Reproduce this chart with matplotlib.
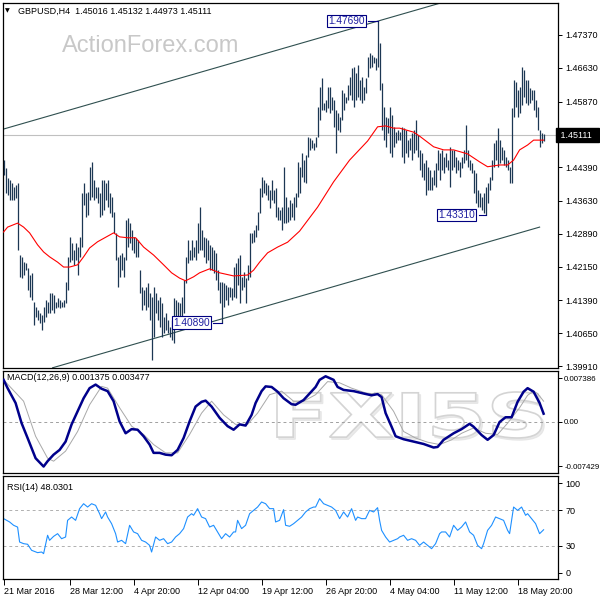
import matplotlib
matplotlib.use("Agg")
import matplotlib.pyplot as plt
from matplotlib.textpath import TextPath
from matplotlib.patches import PathPatch
from matplotlib.font_manager import FontProperties
from matplotlib.transforms import Affine2D
import numpy as np

plt.rcParams['font.family'] = ['Liberation Sans', 'DejaVu Sans']

# ---------------- data ----------------
highs = [
 1.4455,1.4437,1.4415,1.4410,1.4403,1.4395,1.4399,1.4403,1.4241,1.4237,
 1.4225,1.4223,1.4212,1.4196,1.4201,1.4135,1.4124,1.4117,1.4111,1.4106,
 1.4124,1.4140,1.4135,1.4156,1.4156,1.4151,1.4135,1.4144,1.4140,1.4135,
 1.4140,1.4180,1.4237,1.4282,1.4268,1.4252,1.4268,1.4259,1.4282,1.4381,
 1.4403,1.4381,1.4383,1.4440,1.4451,1.4410,1.4395,1.4395,1.4381,1.4410,
 1.4410,1.4403,1.4410,1.4381,1.4372,1.4338,1.4291,1.4237,1.4241,1.4246,
 1.4237,1.4320,1.4325,1.4313,1.4298,1.4282,1.4280,1.4275,1.4207,1.4169,
 1.4162,1.4169,1.4178,1.4156,1.4147,1.4169,1.4156,1.4140,1.4147,1.4133,
 1.4101,1.4111,1.4095,1.4079,1.4095,1.4144,1.4140,1.4135,1.4133,1.4147,
 1.4185,1.4237,1.4275,1.4252,1.4275,1.4259,1.4275,1.4313,1.4349,1.4298,
 1.4282,1.4280,1.4275,1.4264,1.4259,1.4252,1.4246,1.4207,1.4180,1.4180,
 1.4178,1.4174,1.4169,1.4169,1.4167,1.4214,1.4223,1.4234,1.4241,1.4192,
 1.4203,1.4189,1.4219,1.4291,1.4291,1.4298,1.4309,1.4338,1.4392,1.4417,
 1.4410,1.4403,1.4399,1.4388,1.4410,1.4388,1.4392,1.4349,1.4343,1.4349,
 1.4440,1.4372,1.4349,1.4365,1.4358,1.4372,1.4381,1.4451,1.4440,1.4471,
 1.4455,1.4467,1.4507,1.4505,1.4500,1.4494,1.4507,1.4575,1.4620,1.4640,
 1.4584,1.4591,1.4620,1.4620,1.4597,1.4591,1.4568,1.4561,1.4552,1.4613,
 1.4606,1.4597,1.4624,1.4642,1.4663,1.4665,1.4651,1.4669,1.4636,1.4642,
 1.4620,1.4640,1.4688,1.4697,1.4692,1.4688,1.4685,1.4769,1.4719,1.4629,
 1.4575,1.4552,1.4550,1.4575,1.4557,1.4530,1.4518,1.4523,1.4518,1.4530,
 1.4527,1.4523,1.4500,1.4505,1.4516,1.4523,1.4546,1.4512,1.4478,1.4471,
 1.4449,1.4455,1.4440,1.4433,1.4417,1.4433,1.4449,1.4478,1.4471,1.4478,
 1.4462,1.4471,1.4455,1.4485,1.4478,1.4478,1.4462,1.4455,1.4451,1.4462,
 1.4478,1.4534,1.4478,1.4455,1.4449,1.4433,1.4426,1.4388,1.4381,1.4372,
 1.4381,1.4395,1.4403,1.4417,1.4455,1.4494,1.4500,1.4527,1.4500,1.4485,
 1.4478,1.4462,1.4455,1.4440,1.4573,1.4636,1.4631,1.4613,1.4620,1.4665,
 1.4658,1.4636,1.4636,1.4618,1.4613,1.4613,1.4591,1.4575,1.4523,1.4516,1.4513]
lows = [
 1.4422,1.4381,1.4376,1.4365,1.4365,1.4365,1.4370,1.4252,1.4192,1.4189,
 1.4196,1.4207,1.4162,1.4147,1.4140,1.4083,1.4101,1.4095,1.4088,1.4072,
 1.4090,1.4101,1.4111,1.4111,1.4117,1.4111,1.4122,1.4124,1.4122,1.4124,
 1.4124,1.4133,1.4162,1.4225,1.4230,1.4219,1.4230,1.4196,1.4237,1.4259,
 1.4354,1.4327,1.4331,1.4365,1.4372,1.4365,1.4370,1.4358,1.4327,1.4331,
 1.4343,1.4365,1.4349,1.4336,1.4327,1.4291,1.4230,1.4169,1.4192,1.4207,
 1.4192,1.4230,1.4259,1.4268,1.4252,1.4246,1.4237,1.4237,1.4156,1.4117,
 1.4129,1.4117,1.4124,1.4095,1.4005,1.4056,1.4111,1.4095,1.4079,1.4056,
 1.4065,1.4072,1.4065,1.4056,1.4050,1.4043,1.4079,1.4088,1.4072,1.4095,
 1.4111,1.4178,1.4223,1.4230,1.4230,1.4237,1.4230,1.4246,1.4252,1.4252,
 1.4237,1.4223,1.4230,1.4207,1.4207,1.4201,1.4185,1.4162,1.4133,1.4089,
 1.4124,1.4140,1.4129,1.4147,1.4140,1.4147,1.4144,1.4174,1.4133,1.4162,
 1.4169,1.4133,1.4185,1.4192,1.4268,1.4271,1.4282,1.4298,1.4336,1.4372,
 1.4381,1.4376,1.4365,1.4347,1.4365,1.4358,1.4327,1.4320,1.4320,1.4298,
 1.4313,1.4313,1.4316,1.4320,1.4327,1.4320,1.4349,1.4372,1.4381,1.4417,
 1.4406,1.4403,1.4462,1.4478,1.4482,1.4478,1.4485,1.4507,1.4546,1.4568,
 1.4568,1.4564,1.4573,1.4561,1.4568,1.4530,1.4471,1.4523,1.4518,1.4546,
 1.4568,1.4584,1.4591,1.4602,1.4591,1.4575,1.4591,1.4597,1.4591,1.4584,
 1.4591,1.4606,1.4642,1.4663,1.4665,1.4674,1.4658,1.4665,1.4613,1.4523,
 1.4500,1.4485,1.4516,1.4471,1.4462,1.4485,1.4494,1.4500,1.4500,1.4462,
 1.4449,1.4471,1.4462,1.4478,1.4455,1.4471,1.4478,1.4462,1.4433,1.4417,
 1.4410,1.4376,1.4388,1.4388,1.4388,1.4399,1.4395,1.4433,1.4410,1.4433,
 1.4426,1.4440,1.4433,1.4395,1.4433,1.4440,1.4426,1.4433,1.4417,1.4437,
 1.4449,1.4455,1.4440,1.4433,1.4426,1.4381,1.4358,1.4349,1.4349,1.4343,
 1.4336,1.4331,1.4358,1.4388,1.4410,1.4440,1.4455,1.4440,1.4449,1.4455,
 1.4444,1.4440,1.4433,1.4403,1.4403,1.4552,1.4575,1.4552,1.4561,1.4579,
 1.4597,1.4584,1.4579,1.4584,1.4591,1.4568,1.4552,1.4523,1.4485,1.4494,1.4497]

ma_idx = [0, 2, 7, 10, 13, 17, 20, 23, 27, 30, 33, 37, 40, 43, 47, 55, 58, 62, 66, 70,
          75, 80, 84, 88, 91, 95, 98, 103, 108, 115, 122, 125, 128, 132, 137, 142, 148, 157, 165, 173,
          182, 187, 191, 195, 198, 205, 208, 215, 220, 225, 232, 238, 242, 248, 252, 255, 258, 262, 265, 270]
ma_val = [1.4293,1.4304,1.4313,1.4304,1.4291,1.4264,1.4248,1.4237,1.4225,1.4214,
          1.4214,1.4219,1.4237,1.4257,1.4271,1.4291,1.4282,1.4280,1.4280,1.4259,
          1.4241,1.4219,1.4201,1.4189,1.4183,1.4192,1.4201,1.4210,1.4201,1.4194,
          1.4196,1.4207,1.4225,1.4246,1.4259,1.4270,1.4295,1.4349,1.4406,1.4455,
          1.4498,1.4530,1.4532,1.4527,1.4527,1.4518,1.4509,1.4485,1.4478,1.4478,
          1.4469,1.4451,1.4440,1.4444,1.4444,1.4455,1.4478,1.4489,1.4500,1.4500]

macd_idx = [0, 2, 6, 9, 12, 16, 20, 22, 25, 28, 31, 34, 37, 40, 43, 46, 49, 52, 55, 58,
            61, 64, 67, 70, 73, 75, 78, 81, 84, 87, 90, 93, 96, 99, 101, 104, 108, 112, 115, 118,
            121, 124, 126, 129, 131, 134, 137, 140, 144, 146, 150, 153, 156, 158, 161, 165, 167, 170, 175, 180,
            184, 187, 189, 191, 194, 196, 200, 205, 210, 215, 217, 220, 225, 229, 233, 235, 239, 242, 245, 248,
            251, 254, 257, 260, 262, 265, 268, 270]
macd_val = [0.0071,0.0057,0.0032,-0.0002,-0.0027,-0.0061,-0.0075,-0.0066,-0.0055,-0.0047,
            -0.0033,-0.0004,0.0018,0.0040,0.0057,0.0063,0.0056,0.0052,0.0035,0.0001,
            -0.0019,-0.0012,-0.0013,-0.0024,-0.0038,-0.0052,-0.0052,-0.0055,-0.0056,-0.0047,
            -0.0027,0.0001,0.0026,0.0034,0.0036,0.0026,0.0007,-0.0007,-0.0013,-0.0004,
            -0.0006,0.0012,0.0032,0.0052,0.0060,0.0059,0.0051,0.0040,0.0030,0.0029,
            0.0037,0.0048,0.0059,0.0071,0.0077,0.0071,0.0059,0.0054,0.0052,0.0048,
            0.0045,0.0047,0.0042,0.0015,-0.0008,-0.0024,-0.0029,-0.0033,-0.0037,-0.0043,
            -0.0042,-0.0030,-0.0019,-0.0012,-0.0003,-0.0008,-0.0022,-0.0030,-0.0022,0.0000,
            0.0008,0.0008,0.0034,0.0051,0.0057,0.0051,0.0032,0.0014]

sig_idx = [0, 10, 16, 22, 25, 31, 37, 43, 49, 52, 58, 64, 70, 75, 81, 87, 93, 99, 104, 110,
           116, 122, 127, 133, 139, 145, 150, 156, 162, 168, 174, 181, 189, 195, 200, 206, 212, 218, 224, 229,
           235, 241, 247, 252, 258, 262, 265, 267, 270]
sig_val = [0.0071,0.0035,-0.0024,-0.0061,-0.0066,-0.0049,-0.0016,0.0029,0.0060,0.0057,
           0.0024,-0.0007,-0.0021,-0.0038,-0.0052,-0.0052,-0.0021,0.0015,0.0035,0.0012,
           -0.0004,-0.0004,0.0015,0.0046,0.0052,0.0035,0.0035,0.0046,0.0068,0.0066,
           0.0057,0.0049,0.0046,0.0018,-0.0016,-0.0027,-0.0034,-0.0038,-0.0030,-0.0019,
           -0.0010,-0.0019,-0.0021,-0.0002,0.0024,0.0045,0.0052,0.0048,0.0035]

rsi_idx = [0, 3, 5, 7, 8, 10, 12, 14, 17, 19, 20, 22, 23, 25, 27, 29, 31, 32, 34, 36,
           38, 40, 42, 44, 46, 48, 49, 51, 52, 54, 56, 57, 59, 61, 63, 65, 67, 69, 71, 73,
           74, 76, 78, 80, 82, 84, 86, 88, 90, 92, 94, 95, 97, 99, 101, 103, 105, 107, 109, 111,
           113, 115, 116, 117, 119, 121, 123, 125, 127, 129, 131, 133, 135, 136, 138, 140, 141, 143, 145, 147,
           149, 151, 153, 155, 156, 158, 160, 162, 164, 166, 168, 170, 172, 174, 176, 177, 179, 181, 183, 185,
           187, 188, 189, 191, 193, 195, 197, 198, 200, 202, 204, 206, 208, 210, 212, 214, 216, 218, 219, 221,
           223, 225, 227, 229, 231, 233, 235, 237, 239, 240, 242, 244, 246, 248, 250, 252, 253, 255, 257, 259,
           261, 262, 264, 266, 268, 270]
rsi_val = [60.4,56.7,53.0,51.0,34.4,32.6,31.9,25.2,22.6,23.3,21.5,41.9,36.3,40.7,43.7,38.1,40.0,58.5,62.2,58.5,
           71.5,77.0,73.3,77.0,75.2,65.9,60.4,67.8,62.2,54.8,43.7,34.4,36.3,32.6,53.0,45.6,43.7,36.3,34.4,30.7,
           23.3,40.0,36.3,38.1,32.6,34.4,40.0,43.7,49.3,62.2,65.9,64.1,71.5,62.2,60.4,51.1,53.0,45.6,38.1,43.7,
           40.0,45.6,45.6,58.5,49.3,53.0,65.9,69.6,73.3,78.9,77.0,71.5,71.5,56.7,58.5,70.4,53.0,51.9,54.8,58.5,
           62.2,67.8,71.5,73.3,73.3,82.6,77.0,75.2,73.3,69.6,60.4,67.8,62.2,71.5,58.5,62.2,60.4,60.4,69.6,67.8,
           72.6,58.5,47.4,40.0,34.4,36.3,38.1,40.0,41.9,36.3,38.1,36.3,30.7,34.4,30.7,27.0,32.6,43.7,45.6,45.6,
           40.0,53.0,47.4,51.1,56.7,45.6,41.9,30.7,27.0,32.6,47.4,53.0,62.2,60.4,58.5,47.4,43.7,73.3,69.6,73.3,
           64.1,65.9,60.4,54.8,43.7,48.03]

price_ticks = [1.47370, 1.46630, 1.45870, 1.44390, 1.43630, 1.42890, 1.42150, 1.41390, 1.40650, 1.39910]
macd_ticks = [0.007386, 0.0, -0.007429]
macd_tick_labels = ["0.007386", "0.00", "-0.007429"]
rsi_ticks = [100, 70, 30, 0]
date_idx = [0, 33, 65, 97, 129, 161, 193, 225, 257]
date_labels = ["21 Mar 2016", "28 Mar 12:00", "4 Apr 20:00", "12 Apr 04:00", "19 Apr 12:00",
               "26 Apr 20:00", "4 May 04:00", "11 May 12:00", "18 May 20:00"]
last_price = 1.45111
channel_upper_idx = [0, 218.5]
channel_upper_price = [1.4525, 1.4809]
channel_lower_idx = [24.5, 268]
channel_lower_price = [1.3987, 1.4304]
marks = [("1.47690", 187, 1.4769, 171.5, 182.0),
         ("1.40890", 109, 1.4089, 94.0, 104.5),
         ("1.43310", 241, 1.4331, 226.5, 237.5)]

assert len(highs) == len(lows) == 271
assert len(ma_idx) == len(ma_val)
assert len(macd_idx) == len(macd_val)
assert len(sig_idx) == len(sig_val)
assert len(rsi_idx) == len(rsi_val)

# ---------------- figure ----------------
W = H = 600.0
fig = plt.figure(figsize=(6, 6), dpi=100)
fig.patch.set_facecolor('white')

def frac(x0, y0, x1, y1):
    return [x0 / W, 1 - y1 / H, (x1 - x0) / W, (y1 - y0) / H]

ax1 = fig.add_axes(frac(3, 3, 558, 368))
ax2 = fig.add_axes(frac(3, 371, 558, 473))
ax3 = fig.add_axes(frac(3, 476, 558, 579))

XL = (-0.3, 277.2)
TXT = 6.5
for ax in (ax1, ax2, ax3):
    ax.set_xlim(*XL)
    for s in ax.spines.values():
        s.set_linewidth(0.9)
        s.set_color('black')
    ax.yaxis.tick_right()
    ax.tick_params(axis='y', direction='out', length=3, width=0.7, pad=2.5,
                   labelsize=TXT, colors='black')
    ax.tick_params(axis='x', bottom=False, labelbottom=False)

# main price panel
idx = np.arange(len(highs))
ax1.set_ylim(1.39865, 1.4809)
ax1.axhline(last_price, color='#c0c0c0', lw=0.8, zorder=1)
ax1.plot(channel_upper_idx, channel_upper_price, color='#2f4f4f', lw=0.8, zorder=2)
ax1.plot(channel_lower_idx, channel_lower_price, color='#2f4f4f', lw=0.8, zorder=2)
ax1.vlines(idx, lows, highs, colors='#1c3753', linewidth=0.9, zorder=3)
ax1.plot(ma_idx, ma_val, color='#ff0000', lw=0.8, zorder=4)
ax1.set_yticks(price_ticks)
ax1.set_yticklabels(['%.5f' % v for v in price_ticks])

for label, bar_i, price, cx, edge in marks:
    ax1.plot([edge, bar_i], [price, price], color='#000080', lw=0.8, zorder=5)
    ax1.text(cx, price, label, fontsize=TXT + 0.8, color='#1f1fa0', ha='center', va='center',
             zorder=6,
             bbox=dict(boxstyle='square,pad=0.12', facecolor='white', edgecolor='#000080', lw=0.8))

ax1.text(1.0, last_price, ' 1.45111  ', transform=ax1.get_yaxis_transform(),
         fontsize=TXT, color='white', ha='left', va='center', clip_on=False, zorder=10,
         bbox=dict(boxstyle='square,pad=0.25', facecolor='black', edgecolor='black'))

# MACD panel
ax2.set_ylim(-0.00859, 0.00859)
ax2.axhline(0, color='#a0a0a0', lw=0.7, linestyle=(0, (3, 3)), zorder=1)

# outlined watermark logo behind the MACD lines (pixel box 277..542 x 392..438)
tp = TextPath((0, 0), 'FXI5S', size=1, prop=FontProperties(family='DejaVu Sans', weight='bold'))
ext = tp.get_extents()
sx = 265.0 / ext.width
sy = 46.0 / ext.height
base = Affine2D().translate(-ext.x0, -ext.y0).scale(sx, sy)
shadow = PathPatch(tp, transform=base + Affine2D().translate(279, H - 440),
                   facecolor='#ebebeb', edgecolor='#e6e6e6', lw=1.0, zorder=0.4)
logo = PathPatch(tp, transform=base + Affine2D().translate(277, H - 438),
                 facecolor='white', edgecolor='#d4d4d4', lw=1.2, zorder=0.5)
shadow.set_clip_on(False)
logo.set_clip_on(False)
ax2.add_artist(shadow)
ax2.add_artist(logo)

ax2.plot(sig_idx, sig_val, color='#a8a8a8', lw=0.7, zorder=2)
ax2.plot(macd_idx, macd_val, color='#00008b', lw=1.8, zorder=3)
ax2.set_yticks(macd_ticks)
ax2.set_yticklabels(macd_tick_labels)
ax2.tick_params(axis='y', labelsize=5.7, pad=1.5)

# RSI panel
ax3.set_ylim(-6.7, 107.8)
for lvl in (70, 30):
    ax3.axhline(lvl, color='#b0b0b0', lw=0.7, linestyle=(0, (3, 3)), zorder=1)
ax3.plot(rsi_idx, rsi_val, color='#1e90ff', lw=0.8, zorder=2)
ax3.set_yticks(rsi_ticks)
ax3.set_yticklabels([str(v) for v in rsi_ticks])
ax3.set_xticks(date_idx)
ax3.set_xticklabels(date_labels, ha='left')
ax3.tick_params(axis='x', bottom=True, labelbottom=True, direction='out', length=4,
                width=0.7, pad=2, labelsize=TXT, colors='black')

# header texts
fig.text(5 / W, 1 - 11 / H, '\u25BC', fontsize=4.5, color='black', va='center',
         family=['DejaVu Sans'])
fig.text(18 / W, 1 - 11 / H, 'GBPUSD,H4  1.45016 1.45132 1.44973 1.45111',
         fontsize=TXT, color='black', va='center')
fig.text(62 / W, 1 - 46 / H, 'ActionForex.com', fontsize=17, color='#c8c8c8', va='center')
fig.text(7 / W, 1 - 378 / H, 'MACD(12,26,9) 0.001375 0.003477', fontsize=TXT,
         color='black', va='center')
fig.text(7 / W, 1 - 487 / H, 'RSI(14) 48.0301', fontsize=TXT, color='black', va='center')

fig.savefig('out.png', dpi=100, facecolor='white')
